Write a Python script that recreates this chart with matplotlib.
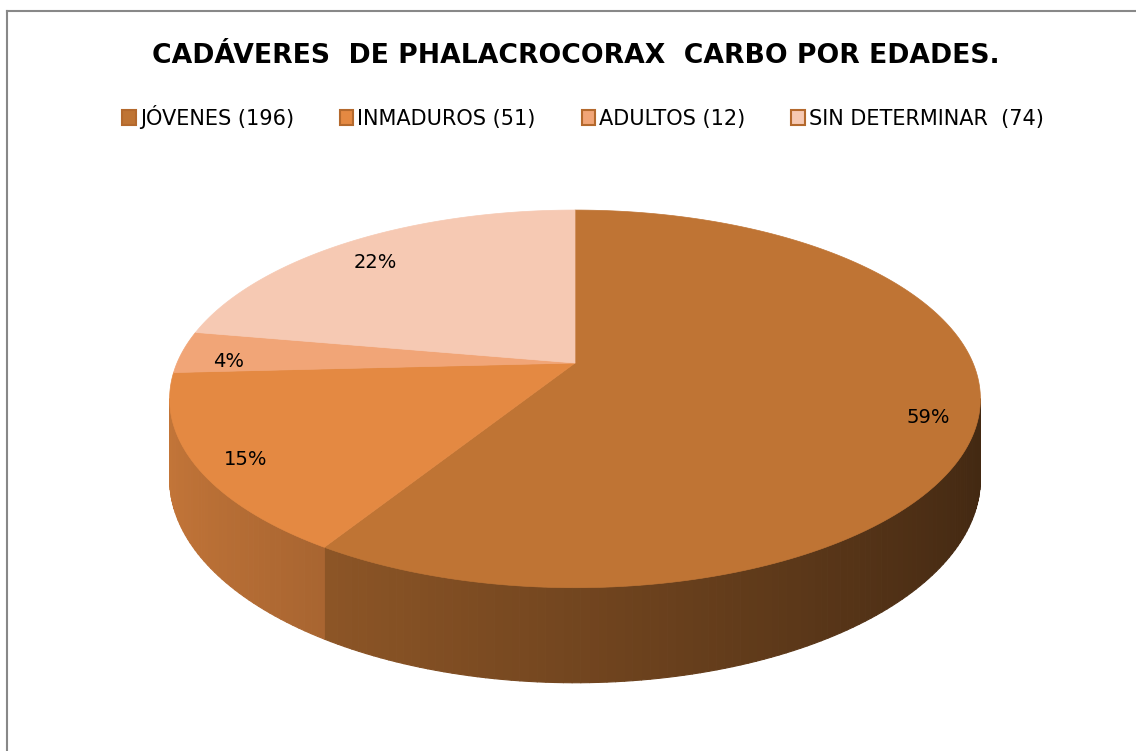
import numpy as np
import matplotlib.pyplot as plt
from matplotlib.patches import Patch
from matplotlib.collections import PolyCollection
from matplotlib.colors import to_rgb

plt.rcParams['font.family'] = ['DejaVu Sans']

categories = ['JÓVENES', 'INMADUROS', 'ADULTOS', 'SIN DETERMINAR']
counts = [196, 51, 12, 74]
legend_labels = ['JÓVENES (196)', 'INMADUROS (51)', 'ADULTOS (12)', 'SIN DETERMINAR  (74)']
top_colors = ['#BF7434', '#E48942', '#F1A577', '#F6C9B3']

W, H = 1136, 751
fig = plt.figure(figsize=(W / 100, H / 100), dpi=100)
ax = fig.add_axes([0, 0, 1, 1])
ax.set_xlim(0, W)
ax.set_ylim(H, 0)
ax.axis('off')

# geometry of the tilted disc (pixels)
CX, CY = 575, 363
RX, RY = 398, 182
K = 0.19       # perspective
DEPTH = 77


def proj(t, r=1.0, z=0.0):
    u = r * np.sin(t)
    v = r * np.cos(t)
    w = 1 + K * v
    return CX + RX * u / w, CY + (-RY * v + DEPTH * z) / w


def shade(color, t):
    f = 0.60 - 0.26 * np.sin(t)
    return tuple(min(1, c * f) for c in to_rgb(color))


fractions = np.array(counts) / sum(counts)
edges = np.concatenate([[0], np.cumsum(fractions)]) * 2 * np.pi
t_right = np.arccos(-K)
t_left = 2 * np.pi - t_right

# side walls
quads, cols = [], []
for i in range(len(counts)):
    a = max(edges[i], t_right)
    b = min(edges[i + 1], t_left)
    if a >= b:
        continue
    ts = np.linspace(a, b, max(2, int(np.degrees(b - a))))
    for t0, t1 in zip(ts[:-1], ts[1:]):
        quads.append([proj(t0), proj(t1), proj(t1, z=1), proj(t0, z=1)])
        cols.append(shade(top_colors[i], (t0 + t1) / 2))
ax.add_collection(PolyCollection(quads, facecolors=cols, edgecolors=cols, linewidths=0.8))

# top faces
tops = []
for i in range(len(counts)):
    ts = np.linspace(edges[i], edges[i + 1], 200)
    xs, ys = proj(ts)
    tops.append([(CX, CY)] + list(zip(xs, ys)))
ax.add_collection(PolyCollection(tops, facecolors=top_colors, edgecolors=top_colors, linewidths=0.5))

# percentage labels
for i in range(len(counts)):
    tm = (edges[i] + edges[i + 1]) / 2
    x, y = proj(tm, r=0.88)
    ax.text(x, y + 8, f'{fractions[i] * 100:.0f}%', ha='center', va='center', fontsize=14,
            color='black')

# chart border
ax.plot([7, 7], [11, H], color='#888888', lw=1.5)
ax.plot([7, W], [11, 11], color='#888888', lw=1.5)

fig.text(576 / W, 1 - 56 / H, 'CADÁVERES  DE PHALACROCORAX  CARBO POR EDADES.',
         ha='center', va='center', fontsize=19.2, fontweight='bold')

handles = [Patch(facecolor=c, edgecolor='#B4692D', linewidth=1.5) for c in top_colors]
fig.legend(handles, legend_labels, loc='center', bbox_to_anchor=(583 / W, 1 - 117 / H), ncol=4,
           frameon=False, fontsize=15, handlelength=0.65, handleheight=0.75, handletextpad=0.2,
           columnspacing=2.2)

fig.savefig('out.png', dpi=100)
